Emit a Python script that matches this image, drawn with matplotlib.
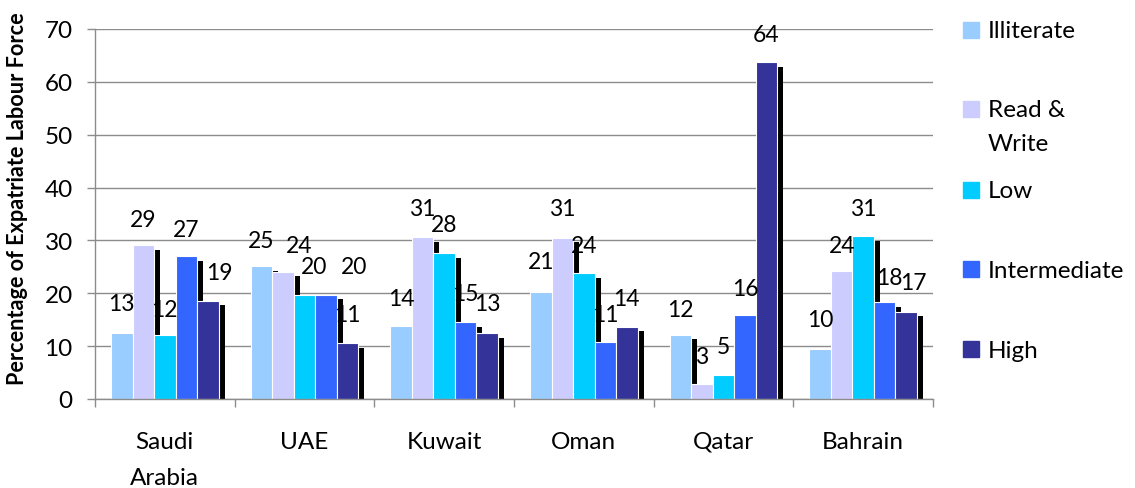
import numpy as np
import matplotlib
matplotlib.use("Agg")
import matplotlib.pyplot as plt
from matplotlib import patheffects as pe
from matplotlib.patches import Rectangle

plt.rcParams['font.family'] = ['Lato', 'DejaVu Sans']

countries = ["Saudi\nArabia", "UAE", "Kuwait", "Oman", "Qatar", "Bahrain"]
series = ["Illiterate", "Read &\nWrite", "Low", "Intermediate", "High"]
colors = ["#99CCFF", "#CCCCFF", "#00CCFF", "#3366FF", "#333399"]

# bar heights
illiterate = [12.4, 25.1, 13.9, 20.3, 12.2, 9.5]
read_write = [29.1, 24.1, 30.6, 30.5, 2.8, 24.2]
low = [12.1, 19.7, 27.6, 23.8, 4.5, 30.8]
intermediate = [27.0, 19.7, 14.5, 10.7, 15.9, 18.3]
high = [18.6, 10.6, 12.4, 13.7, 63.7, 16.5]

# data labels as printed on the chart
lab_illiterate = [13, 25, 14, 21, 12, 10]
lab_read_write = [29, 24, 31, 31, 3, 24]
lab_low = [12, 20, 28, 24, 5, 31]
lab_intermediate = [27, 20, 15, 11, 16, 18]
lab_high = [19, 11, 13, 14, 64, 17]

values = [illiterate, read_write, low, intermediate, high]
labels = [lab_illiterate, lab_read_write, lab_low, lab_intermediate, lab_high]

# a few labels were dragged sideways in the original (series, country) -> points
nudge = {(4, 0): 8, (1, 1): 11.5, (2, 1): 7, (3, 1): 20, (3, 5): 3.6, (4, 5): 5}

fs = 17.5

fig = plt.figure(figsize=(11.35, 4.89), dpi=100)
ax = fig.add_axes([95 / 1135, 1 - 400 / 489, (933 - 95) / 1135, 370 / 489])

n = len(series)
w = 1 / 6.5
x = np.arange(len(countries))
shadow = [pe.SimplePatchShadow(offset=(4.3, -3.3), shadow_rgbFace='black', alpha=1.0), pe.Normal()]

for i in range(n):
    pos = x - (n - 1) / 2 * w + i * w
    bars = ax.bar(pos, values[i], width=w, color=colors[i], edgecolor='white',
                  linewidth=0.8, zorder=2)
    for b in bars:
        b.set_path_effects(shadow)
    for j, (p, lv) in enumerate(zip(pos, labels[i])):
        ax.annotate(str(lv), (p, lv), xytext=(nudge.get((i, j), 0), 19),
                    textcoords='offset points', ha='center', va='center',
                    fontsize=16.5, color='black', zorder=5)

ax.set_xlim(-0.5, len(countries) - 0.5)
ax.set_ylim(0, 70)
ax.set_yticks(range(0, 71, 10))
ax.yaxis.grid(True, color='#8c8c8c', linewidth=1)
ax.set_axisbelow(True)

ax.set_xticks(x)
ax.set_xticklabels(countries, fontsize=fs, linespacing=1.9)
ax.set_xticks(np.arange(-0.5, len(countries), 1), minor=True)
ax.tick_params(axis='x', which='major', length=0, pad=23)
ax.tick_params(axis='x', which='minor', length=6, color='#8c8c8c', width=1)
ax.tick_params(axis='y', length=6, color='#8c8c8c', width=1, labelsize=fs, pad=10)

for s in ['top', 'right']:
    ax.spines[s].set_visible(False)
for s in ['left', 'bottom']:
    ax.spines[s].set_color('#8c8c8c')
    ax.spines[s].set_linewidth(1)

fig.text(18 / 1135, 1 - 199 / 489, "Percentage of Expatriate Labour Force", rotation=90,
         ha='center', va='center', fontsize=15.6, fontweight='bold')

# legend drawn by hand, marker next to first line of each entry
leg_y = [31, 110, 191, 270, 350]
for i in range(n):
    yc = 1 - leg_y[i] / 489
    fig.patches.append(Rectangle((963 / 1135, yc - 8 / 489), 16 / 1135, 16 / 489,
                                 transform=fig.transFigure, color=colors[i]))
    fig.text(988 / 1135, yc + 9.5 / 489, series[i], ha='left', va='top', fontsize=fs,
             linespacing=1.73)

fig.savefig("out.png", dpi=100)
